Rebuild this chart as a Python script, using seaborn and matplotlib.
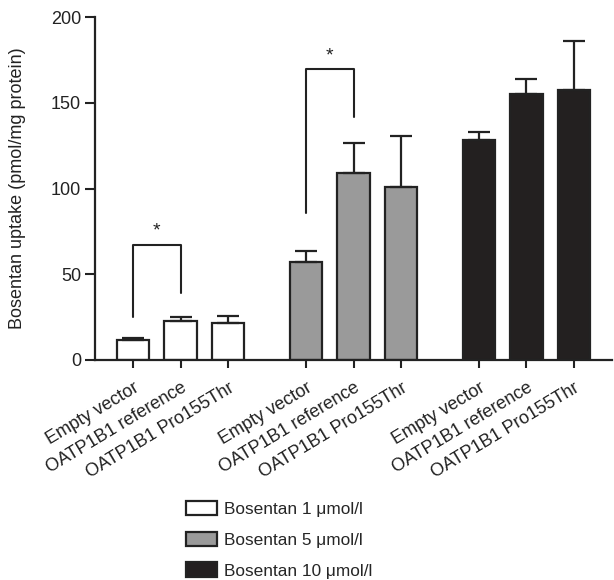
import numpy as np
import pandas as pd
import seaborn as sns
import matplotlib.pyplot as plt
from matplotlib.patches import Patch

sns.set_style("ticks")
plt.rcParams['font.family'] = ['Liberation Sans', 'DejaVu Sans']

# data
groups = ["Empty vector", "OATP1B1 reference", "OATP1B1 Pro155Thr"]
concentrations = ["Bosentan 1 \u03bcmol/l", "Bosentan 5 \u03bcmol/l", "Bosentan 10 \u03bcmol/l"]
uptake_1 = [11.7, 22.7, 21.4]
sd_1 = [1.3, 2.6, 4.2]
uptake_5 = [57.3, 109.2, 100.9]
sd_5 = [6.4, 17.5, 29.7]
uptake_10 = [128.1, 154.9, 157.2]
sd_10 = [5.0, 8.7, 28.8]
# significance brackets: (left bar, right bar, top, left leg bottom, right leg bottom)
brackets = [(0, 1, 67, 25.3, 38.9), (3, 4, 169.5, 86, 141.5)]

colors = ["white", "#9a9a9a", "#231f20"]
group_gap = 1.64
fs = 13

rows = []
for gi, (conc, vals, sds) in enumerate(zip(concentrations, [uptake_1, uptake_5, uptake_10], [sd_1, sd_5, sd_10])):
    for bi, (g, v, s) in enumerate(zip(groups, vals, sds)):
        rows.append({"pos": gi * (2 + group_gap) + bi, "label": g, "conc": conc, "uptake": v, "sd": s})
df = pd.DataFrame(rows)

fig = plt.figure(figsize=(6.14, 5.80), dpi=100)
ax = fig.add_axes([95 / 614, 220 / 580, (612 - 95) / 614, (360 - 17) / 580])

sns.barplot(data=df, x="pos", y="uptake", hue="conc", native_scale=True, dodge=False,
            palette=dict(zip(concentrations, colors)), edgecolor="#222222", linewidth=1.6,
            width=0.69, errorbar=None, legend=False, ax=ax)
ax.errorbar(df["pos"], df["uptake"], yerr=[np.zeros(len(df)), df["sd"]], fmt="none",
            ecolor="#222222", elinewidth=1.6, capsize=8, capthick=1.6, zorder=1)

for l, r, top, lb, rb in brackets:
    xl, xr = df["pos"][l], df["pos"][r]
    ax.plot([xl, xl, xr, xr], [lb, top, top, rb], color="#222222", lw=1.5)
    ax.text((xl + xr) / 2, top + 3, "*", ha="center", va="bottom", fontsize=14, color="#222222")

ax.set_xlim(-0.8, 10.08)
ax.set_ylim(0, 200)
ax.set_yticks([0, 50, 100, 150, 200])
ax.set_xticks(df["pos"])
ax.set_xticklabels(df["label"], rotation=31, ha="right", va="top", rotation_mode="anchor")
ax.tick_params(axis="both", labelsize=fs, width=1.5, color="#222222", labelcolor="#222222")
ax.tick_params(axis="x", length=6, pad=8)
ax.tick_params(axis="y", length=7, pad=3)
ax.set_xlabel("")
ax.set_ylabel("Bosentan uptake (pmol/mg protein)", fontsize=fs, color="#222222")
ax.yaxis.set_label_coords(-0.134, 0.5)
for sp in ["left", "bottom"]:
    ax.spines[sp].set_linewidth(1.6)
    ax.spines[sp].set_color("#222222")
sns.despine(ax=ax)

handles = [Patch(facecolor=c, edgecolor="#222222", linewidth=1.6) for c in colors]
fig.legend(handles, concentrations, loc="upper left", bbox_to_anchor=(186 / 614, 1 - 501 / 580),
           frameon=False, fontsize=12.4, handlelength=1.8, handleheight=0.9,
           handletextpad=0.4, labelspacing=0.85, borderpad=0, borderaxespad=0)

plt.savefig("out.png", dpi=100)
